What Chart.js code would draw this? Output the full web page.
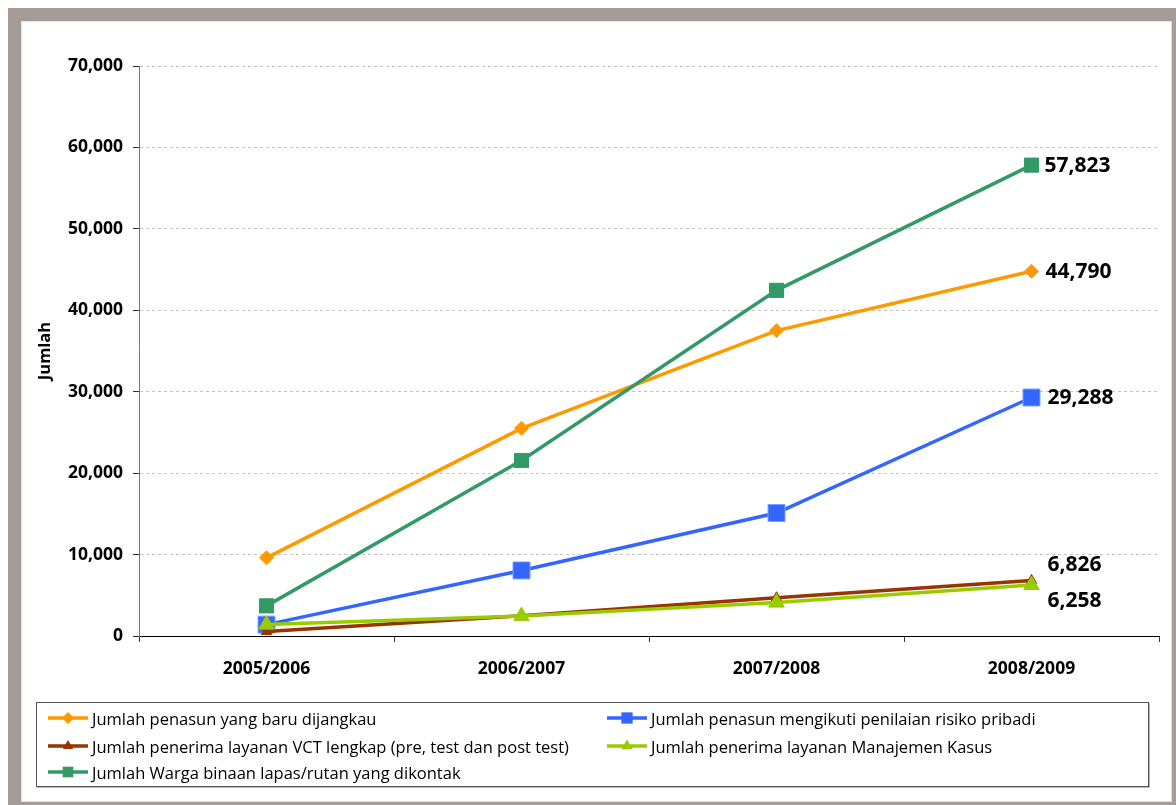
<!DOCTYPE html>
<html>
<head>
<meta charset="utf-8">
<script src="https://cdn.jsdelivr.net/npm/chart.js@4.4.1/dist/chart.umd.min.js"></script>
<style>
  html, body { margin: 0; padding: 0; background: #ffffff; }
  #page { position: relative; width: 1176px; height: 805px; overflow: hidden; background: #ffffff; }
  #frame { position: absolute; left: 8px; top: 8px; width: 1177px; height: 807px; box-sizing: border-box;
           border: 13px solid #a59c99; }
  #frame::after { content: ""; position: absolute; inset: 0; border: 1px solid #e4e0df; }
  #chart { position: absolute; left: 0; top: 0; }
  #legend { position: absolute; left: 36px; top: 702px; width: 1113px; height: 85px; box-sizing: border-box;
            border: 1px solid #555555; box-shadow: 1px 1px 0 #b8b8b8; background: #ffffff;
            font-family: "Open Sans", sans-serif; font-size: 16.5px; color: #000000; }
  .item { position: absolute; height: 20px; display: flex; align-items: center; white-space: nowrap; }
  .item svg { margin-right: 4px; flex: none; }
</style>
</head>
<body>
<div id="page">
  <div id="frame"></div>
  <canvas id="chart" width="1176" height="805"></canvas>
  <div id="legend"></div>
</div>
<script>
// Periods on the x axis
const periods = ['2005/2006', '2006/2007', '2007/2008', '2008/2009'];

// Series values per period
const penasunBaru      = [9600, 25500, 37500, 44790];
const penilaianRisiko  = [1400, 8050, 15100, 29288];
const layananVCT       = [550, 2500, 4700, 6826];
const manajemenKasus   = [1400, 2450, 4100, 6258];
const wargaBinaan      = [3700, 21550, 42450, 57823];

// Series names
const seriesNames = [
  'Jumlah penasun yang baru dijangkau',
  'Jumlah penasun mengikuti penilaian risiko pribadi',
  'Jumlah penerima layanan VCT lengkap (pre, test dan post test)',
  'Jumlah penerima layanan Manajemen Kasus',
  'Jumlah Warga binaan lapas/rutan yang dikontak'
];

// Value axis ticks
const yTicks = [0, 10000, 20000, 30000, 40000, 50000, 60000, 70000];

const fmt = v => v.toLocaleString('en-US');

const styles = [
  { color: '#ff9900', point: 'rectRot',  radius: 7,  legendRadius: 6 },
  { color: '#3366ff', point: 'rect',     radius: 12, legendRadius: 8 },
  { color: '#993300', point: 'triangle', radius: 6,  legendRadius: 6 },
  { color: '#99cc00', point: 'triangle', radius: 9,  legendRadius: 6.5 },
  { color: '#339966', point: 'rect',     radius: 10, legendRadius: 7.5 }
];
const seriesValues = [penasunBaru, penilaianRisiko, layananVCT, manajemenKasus, wargaBinaan];

// End-of-line value labels (offsets from the last point)
const endLabelOffsets = [
  { dx: 14, dy: 1 },
  { dx: 16, dy: 1 },
  { dx: 16, dy: -15 },
  { dx: 16, dy: 16 },
  { dx: 13, dy: 1 }
];

const datasets = seriesValues.map((vals, i) => ({
  label: seriesNames[i],
  data: vals,
  borderColor: styles[i].color,
  backgroundColor: styles[i].color,
  borderWidth: 3.5,
  pointStyle: styles[i].point,
  pointRadius: styles[i].radius,
  pointHoverRadius: styles[i].radius,
  pointBackgroundColor: styles[i].color,
  pointBorderColor: i === 1 ? '#7f9fff' : styles[i].color,
  pointBorderWidth: 1,
  tension: 0,
  fill: false,
  order: seriesValues.length - 1 - i
}));

const endLabels = {
  id: 'endLabels',
  afterDatasetsDraw(chart) {
    const ctx = chart.ctx;
    ctx.save();
    ctx.font = 'bold 21px "Open Sans", sans-serif';
    ctx.fillStyle = '#000000';
    ctx.textAlign = 'left';
    ctx.textBaseline = 'middle';
    chart.data.datasets.forEach((ds, i) => {
      const meta = chart.getDatasetMeta(i);
      const last = meta.data[meta.data.length - 1];
      const v = ds.data[ds.data.length - 1];
      const o = endLabelOffsets[i];
      ctx.fillText(fmt(v), last.x + o.dx, last.y + o.dy);
    });
    ctx.restore();
  }
};

const tickFont = { family: '"Open Sans", sans-serif', size: 17.5, weight: 'bold' };

new Chart(document.getElementById('chart'), {
  type: 'line',
  data: { labels: periods, datasets },
  options: {
    responsive: false,
    animation: false,
    events: [],
    layout: { padding: { left: 31, top: 66, right: 17, bottom: 109 } },
    plugins: { legend: { display: false }, tooltip: { enabled: false } },
    scales: {
      x: {
        type: 'category',
        offset: true,
        grid: {
          offset: true,
          drawOnChartArea: false,
          drawTicks: true,
          tickLength: 6,
          tickColor: '#333333',
          tickWidth: 1
        },
        border: { display: true, color: '#000000', width: 1 },
        ticks: { font: tickFont, color: '#000000', padding: 17, maxRotation: 0 },
        afterFit(scale) { scale.height = 60; }
      },
      y: {
        min: 0,
        max: 70000,
        afterBuildTicks(scale) { scale.ticks = yTicks.map(v => ({ value: v })); },
        grid: {
          color: '#c4c4c4',
          lineWidth: 1,
          tickColor: '#333333',
          tickBorderDash: [],
          tickLength: 6
        },
        border: { display: true, color: '#777777', width: 1, dash: [3, 3] },
        ticks: { font: tickFont, color: '#000000', padding: 10, callback: v => fmt(v) },
        title: {
          display: true,
          text: 'Jumlah',
          font: { family: '"Open Sans", sans-serif', size: 16.5, weight: 'bold' },
          color: '#000000',
          padding: { top: 4, bottom: 4 }
        },
        afterFit(scale) { scale.width = 108; }
      }
    }
  },
  plugins: [endLabels]
});

// Legend box with two columns
const legend = document.getElementById('legend');
const legendPos = [
  { x: 11, y: 5 }, { x: 570, y: 5 },
  { x: 11, y: 33 }, { x: 570, y: 33 },
  { x: 11, y: 59 }
];
function markerSvg(s) {
  const c = s.color, r = s.legendRadius, cx = 20, cy = 10;
  let shape = '';
  if (s.point === 'rectRot') {
    shape = `<polygon points="${cx},${cy - r} ${cx + r},${cy} ${cx},${cy + r} ${cx - r},${cy}" fill="${c}"/>`;
  } else if (s.point === 'rect') {
    const h = r * 0.707;
    shape = `<rect x="${cx - h}" y="${cy - h}" width="${2 * h}" height="${2 * h}" fill="${c}"/>`;
  } else {
    const w = r * 0.866;
    shape = `<polygon points="${cx},${cy - r} ${cx + w},${cy + r / 2} ${cx - w},${cy + r / 2}" fill="${c}"/>`;
  }
  return `<svg width="40" height="20" viewBox="0 0 40 20"><line x1="0" y1="10" x2="40" y2="10" stroke="${c}" stroke-width="3.5"/>${shape}</svg>`;
}
seriesNames.forEach((name, i) => {
  const el = document.createElement('div');
  el.className = 'item';
  el.style.left = legendPos[i].x + 'px';
  el.style.top = legendPos[i].y + 'px';
  el.innerHTML = markerSvg(styles[i]) + '<span>' + name + '</span>';
  legend.appendChild(el);
});
</script>
</body>
</html>
